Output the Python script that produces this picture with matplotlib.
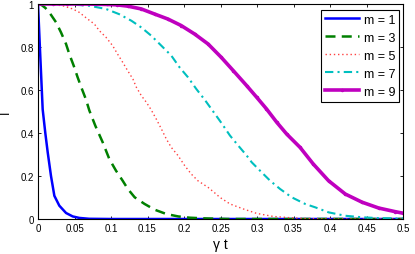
import matplotlib
matplotlib.use("Agg")
import matplotlib.pyplot as plt

plt.rcParams['font.family'] = ['Liberation Sans', 'DejaVu Sans']

# m = 1
t1 = [0, 0.0027, 0.0064, 0.010, 0.0133, 0.0178, 0.0224, 0.0292, 0.0384, 0.0475, 0.0566, 0.07, 0.1, 0.5]
I1 = [1, 0.79, 0.51, 0.40, 0.31, 0.20, 0.108, 0.062, 0.028, 0.012, 0.005, 0.001, 0.0, 0.0]
# m = 3
t3 = [0, 0.005, 0.010, 0.0155, 0.0247, 0.0315, 0.0384, 0.0429, 0.0489, 0.0543, 0.0598, 0.0658,
      0.0703, 0.0785, 0.0886, 0.0977, 0.1068, 0.116, 0.123, 0.1324, 0.146, 0.16, 0.176, 0.192,
      0.208, 0.227, 0.26, 0.5]
I3 = [1, 0.995, 0.982, 0.961, 0.915, 0.868, 0.814, 0.767, 0.713, 0.659, 0.608, 0.555,
      0.505, 0.434, 0.357, 0.279, 0.225, 0.178, 0.14, 0.101, 0.07, 0.043, 0.023, 0.012,
      0.006, 0.003, 0.0, 0.0]
# m = 5
t5 = [0, 0.02, 0.036, 0.0475, 0.0566, 0.068, 0.0772, 0.084, 0.0932, 0.1023, 0.109, 0.116,
      0.1228, 0.130, 0.1347, 0.1415, 0.1484, 0.155, 0.162, 0.169, 0.1758, 0.1826, 0.1918,
      0.201, 0.21, 0.219, 0.233, 0.244, 0.249, 0.263, 0.281, 0.2996, 0.322, 0.345, 0.368, 0.4, 0.5]
I5 = [1, 0.999, 0.99, 0.977, 0.961, 0.93, 0.907, 0.876, 0.845, 0.806, 0.767, 0.729,
      0.69, 0.651, 0.613, 0.574, 0.543, 0.508, 0.465, 0.419, 0.372, 0.333, 0.295,
      0.248, 0.209, 0.178, 0.147, 0.116, 0.101, 0.07, 0.047, 0.026, 0.012, 0.006, 0.002, 0.0, 0.0]
# m = 7
t7 = [0, 0.04, 0.070, 0.093, 0.111, 0.128, 0.1415, 0.155, 0.169, 0.1826, 0.194, 0.2055,
      0.2168, 0.2283, 0.24, 0.2516, 0.263, 0.2744, 0.2859, 0.2927, 0.3064, 0.318, 0.3315,
      0.3475, 0.366, 0.38, 0.398, 0.421, 0.444, 0.467, 0.5]
I7 = [1, 0.999, 0.992, 0.977, 0.953, 0.922, 0.891, 0.853, 0.806, 0.76, 0.705, 0.659,
      0.605, 0.555, 0.50, 0.445, 0.388, 0.341, 0.295, 0.264, 0.217, 0.178, 0.14,
      0.101, 0.07, 0.054, 0.031, 0.015, 0.008, 0.004, 0.002]
# m = 9
t9 = [0, 0.02, 0.04, 0.06, 0.08, 0.094, 0.108, 0.123, 0.1415, 0.16, 0.178, 0.196, 0.2147,
      0.233, 0.251, 0.2675, 0.2859, 0.2996, 0.313, 0.327, 0.3407, 0.359, 0.377, 0.398,
      0.421, 0.444, 0.4667, 0.4895, 0.5]
I9 = [1, 1, 1, 1, 0.999, 0.998, 0.996, 0.99, 0.977, 0.953, 0.93, 0.90, 0.86,
      0.814, 0.752, 0.69, 0.62, 0.566, 0.512, 0.45, 0.395, 0.333, 0.256, 0.178,
      0.116, 0.078, 0.051, 0.034, 0.027]

xticks = [0, 0.05, 0.1, 0.15, 0.2, 0.25, 0.3, 0.35, 0.4, 0.45, 0.5]
xticklabels = ['0', '0.05', '0.1', '0.15', '0.2', '0.25', '0.3', '0.35', '0.4', '0.45', '0.5']
yticks = [0, 0.2, 0.4, 0.6, 0.8, 1]
yticklabels = ['0', '0.2', '0.4', '0.6', '0.8', '1']

fig = plt.figure(figsize=(4.15, 2.55), dpi=100)
ax = fig.add_axes([38/415, 35/255, 365/415, 215/255])

ax.plot(t1, I1, color=(0, 0, 1), lw=1.8, label='m = 1')
ax.plot(t3, I3, color=(0, 0.5, 0), lw=1.8, dashes=(4, 2.5), label='m = 3')
ax.plot(t5, I5, color=(1, 0.25, 0.25), lw=1.0, dashes=(1, 2), label='m = 5')
ax.plot(t7, I7, color=(0, 0.75, 0.75), lw=1.5, dashes=(4, 2, 1, 2), label='m = 7')
ax.plot(t9, I9, color=(0.75, 0, 0.75), lw=2.6, marker='.', markersize=3, label='m = 9')

ax.set_xlim(0, 0.5)
ax.set_ylim(0, 1)
ax.set_xticks(xticks)
ax.set_xticklabels(xticklabels)
ax.set_yticks(yticks)
ax.set_yticklabels(yticklabels)
ax.tick_params(direction='in', length=2.5, width=0.6, top=True, right=True,
               labelsize=7, pad=3)
for s in ax.spines.values():
    s.set_linewidth(0.8)

ax.set_xlabel('γ t', fontsize=10, labelpad=3)
ax.set_ylabel('I', fontsize=9, labelpad=6)

leg = ax.legend(loc='upper right', bbox_to_anchor=(0.989, 0.972), borderaxespad=0,
                fontsize=9, fancybox=False, framealpha=1,
                edgecolor='black', handlelength=2.7, borderpad=0.3, labelspacing=0.48,
                handletextpad=0.4, numpoints=1)
leg.get_frame().set_linewidth(0.8)

fig.savefig('out.png', dpi=100)
